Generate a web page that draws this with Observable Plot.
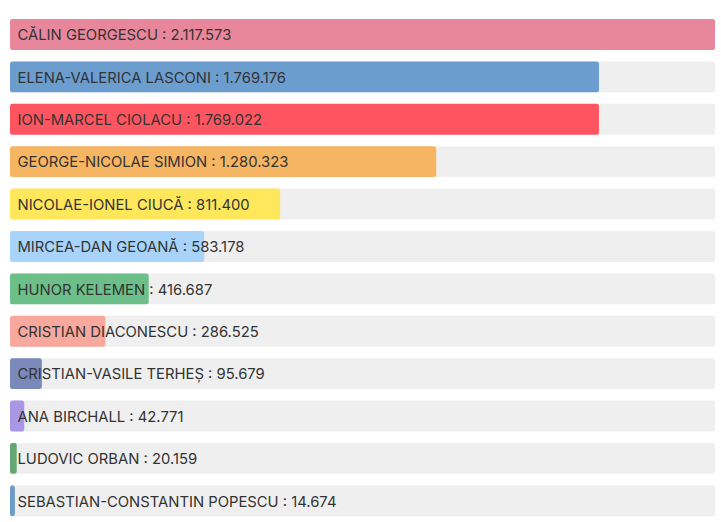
<!DOCTYPE html>
<html>
<head>
<meta charset="utf-8">
<script src="https://cdn.jsdelivr.net/npm/d3@7"></script>
<script src="https://cdn.jsdelivr.net/npm/@observablehq/plot@0.6"></script>
<style>
  html, body { margin: 0; padding: 0; background: #fff; }
  #chart { width: 721px; height: 522px; }
  #chart svg { display: block; }
</style>
</head>
<body>
<div id="chart"></div>
<script>
const candidates = [
  "CĂLIN GEORGESCU",
  "ELENA-VALERICA LASCONI",
  "ION-MARCEL CIOLACU",
  "GEORGE-NICOLAE SIMION",
  "NICOLAE-IONEL CIUCĂ",
  "MIRCEA-DAN GEOANĂ",
  "HUNOR KELEMEN",
  "CRISTIAN DIACONESCU",
  "CRISTIAN-VASILE TERHEȘ",
  "ANA BIRCHALL",
  "LUDOVIC ORBAN",
  "SEBASTIAN-CONSTANTIN POPESCU"
];
const votes = [2117573, 1769176, 1769022, 1280323, 811400, 583178, 416687, 286525, 95679, 42771, 20159, 14674];
const colors = ["#e8879c", "#6c9dcf", "#ff5560", "#f5b563", "#ffe75c", "#a8d4fb", "#6cbf88", "#f8a89c", "#7b88ba", "#a996e4", "#64a674", "#6e9cc8"];

const fmt = d3.formatLocale({decimal: ",", thousands: ".", grouping: [3], currency: ["", ""]}).format(",d");
const data = candidates.map((name, i) => ({name, votes: votes[i], color: colors[i], label: `${name} : ${fmt(votes[i])}`}));
const maxV = d3.max(votes);

const chart = Plot.plot({
  width: 721,
  height: 522,
  marginTop: 13.3,
  marginBottom: 0,
  marginLeft: 10,
  marginRight: 6,
  style: {fontFamily: "Inter, sans-serif", background: "#fff"},
  x: {domain: [0, maxV], axis: null},
  y: {domain: candidates, axis: null, padding: 0, round: false},
  marks: [
    Plot.barX(data, {y: "name", x1: 0, x2: maxV, fill: "#efefef", insetTop: 5.75, insetBottom: 5.75, rx: 2}),
    Plot.barX(data, {y: "name", x1: 0, x2: "votes", fill: d => d.color, insetTop: 5.75, insetBottom: 5.75, rx: 2.5}),
    Plot.text(data, {y: "name", x: 0, dx: 7, text: "label", textAnchor: "start", fill: "#333", fontSize: 14.8, dy: 0.5})
  ]
});
document.getElementById("chart").appendChild(chart);
</script>
</body>
</html>
